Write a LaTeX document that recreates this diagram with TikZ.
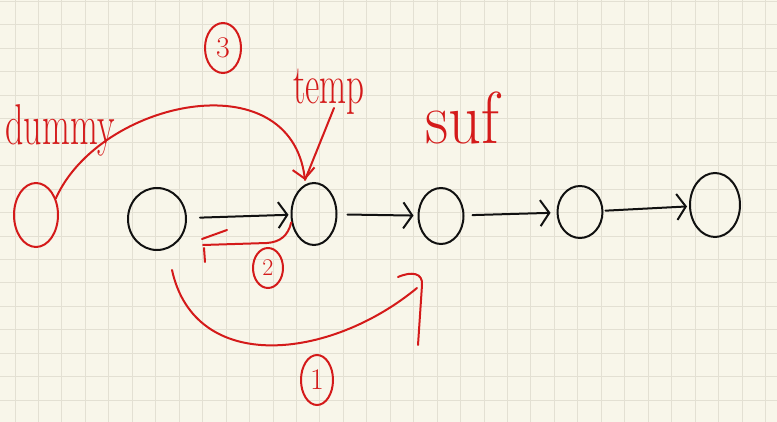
\documentclass[tikz,border=0pt]{standalone}
\usetikzlibrary{shapes.geometric,arrows.meta}
\definecolor{paper}{HTML}{F8F6EA}
\definecolor{gridc}{HTML}{E3E0D3}
\definecolor{ink}{HTML}{111111}
\definecolor{redink}{HTML}{D41A1A}
\tikzset{
  blknode/.style={ellipse, draw=ink, line width=2pt, inner sep=0pt},
  rednode/.style={ellipse, draw=redink, line width=2pt, inner sep=0pt},
  blkarrow/.style={draw=ink, line width=2pt, line cap=round, -{Straight Barb[length=9pt,width=26pt,line width=2pt]}},
  redline/.style={draw=redink, line width=2pt, line cap=round, line join=round},
  redarrow/.style={redline, -{Straight Barb[length=10pt,width=22pt,line width=2pt]}},
  hand/.style={text=redink, inner sep=0pt, yscale=1.6},
  circnum/.style={ellipse, draw=redink, line width=2pt, inner sep=0pt, text=redink, font=\fontsize{30}{30}\selectfont},
  gridline/.style={draw=gridc, line width=0.9pt}
}
\begin{document}
\begin{tikzpicture}[x=1pt,y=-1pt]
\useasboundingbox (0,0) rectangle (777,422);
\fill[paper] (0,0) rectangle (777,422);
\foreach \i in {0,...,33} { \draw[gridline] ({15+23.45*\i},0) -- ({15+23.45*\i},422); }
\foreach \j in {0,...,18} { \draw[gridline] (0,{1.5+23.45*\j}) -- (777,{1.5+23.45*\j}); }

% black list nodes
\node[blknode, minimum width=58pt, minimum height=62pt] (n1) at (157,219) {};
\node[blknode, minimum width=45pt, minimum height=62pt] (n2) at (314,214) {};
\node[blknode, minimum width=45pt, minimum height=56pt] (n3) at (441,216) {};
\node[blknode, minimum width=45pt, minimum height=52pt] (n4) at (580,212) {};
\node[blknode, minimum width=50pt, minimum height=64pt] (n5) at (715,205) {};

% dummy node
\node[rednode, minimum width=44pt, minimum height=64pt] (dummy) at (36,215) {};

% black arrows
\draw[blkarrow, shorten <=13pt, shorten >=2pt] (n1) -- (n2);
\draw[blkarrow, shorten <=10pt, shorten >=4pt] (n2) -- (n3);
\draw[blkarrow, shorten <=8pt, shorten >=6pt] (n3) -- (n4);
\draw[blkarrow, shorten <=2pt, shorten >=2pt] (n4) -- (n5);

% labels
\node[hand, font=\fontsize{36}{36}\selectfont] (ldummy) at (60,130) {dummy};
\node[hand, font=\fontsize{35}{35}\selectfont] (ltemp) at (329,92) {temp};
\node[hand, xscale=1.4, font=\fontsize{46}{46}\selectfont] (lsuf) at (462,118) {suf};

% circled step numbers
\node[circnum, minimum width=36pt, minimum height=50pt] (c3) at (223,48) {3};
\node[circnum, minimum width=30pt, minimum height=40pt, font=\fontsize{24}{24}\selectfont] (c2) at (268,268) {2};
\node[circnum, minimum width=32pt, minimum height=50pt] (c1) at (317,380) {1};

% step 3: dummy -> temp node
\coordinate (d3) at (305,180);
\draw[redarrow] (dummy.40) .. controls (100,100) and (290,60) .. (d3);
% temp pointer
\coordinate (tp) at (334,108);
\draw[redline] (tp) -- (d3);

% step 1: from first node around to third node
\coordinate (s1) at (172,270);
\coordinate (e1) at (417,288);
\draw[redline] (s1) .. controls (195,375) and (330,360) .. (e1);
\draw[redline] (398,277) .. controls (412,271) and (423,273) .. (422,285) -- (418,345);

% step 2: temp node back towards first node
\coordinate (e2) at (203,245);
\draw[redline] (n2.200) .. controls (288,236) and (280,242) .. (267,243) -- (e2);
\draw[redline] (202,239) -- (227,230);
\draw[redline] (204,248) -- (205,262);
\end{tikzpicture}
\end{document}
